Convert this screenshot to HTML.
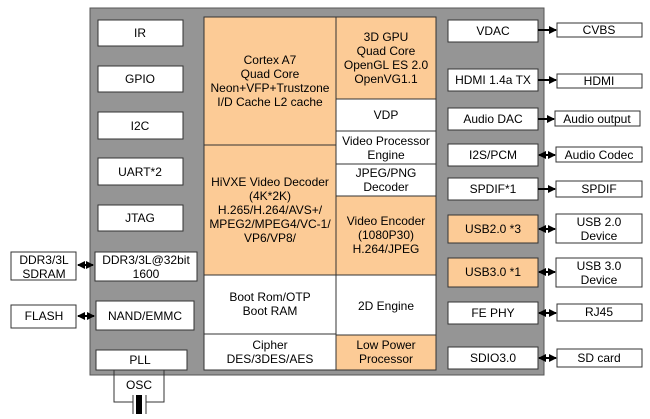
<!DOCTYPE html>
<html><head><style>
body{margin:0;background:#fff}
svg text{font-family:"Liberation Sans",sans-serif;font-size:12px;fill:#000;text-anchor:middle}
</style></head><body>
<svg width="650" height="414" viewBox="0 0 650 414" xmlns="http://www.w3.org/2000/svg">
<defs>
<marker id="a" markerWidth="8" markerHeight="8" refX="7" refY="4" orient="auto" markerUnits="userSpaceOnUse"><path d="M0,0L8,4L0,8z" fill="#000"/></marker>
<marker id="b" markerWidth="8" markerHeight="8" refX="1" refY="4" orient="auto" markerUnits="userSpaceOnUse"><path d="M8,0L0,4L8,8z" fill="#000"/></marker>
</defs>
<rect x="90" y="8" width="454" height="367" fill="#959595" stroke="#555" stroke-width="1"/>
<g stroke="#333" stroke-width="1" fill="#fff">
<rect x="98" y="20" width="85" height="26"/>
<rect x="98" y="66" width="85" height="26"/>
<rect x="98" y="112" width="85" height="27"/>
<rect x="98" y="158" width="85" height="27"/>
<rect x="98" y="205" width="85" height="26"/>
<rect x="95" y="252" width="102" height="29"/>
<rect x="96" y="301" width="98" height="29"/>
<rect x="96" y="350" width="91" height="20"/>
<rect x="11" y="252" width="65" height="28"/>
<rect x="11" y="305" width="65" height="23"/>
<rect x="204" y="17" width="132" height="128" fill="#fccb96"/>
<rect x="204" y="145" width="132" height="130" fill="#fccb96"/>
<rect x="204" y="275" width="132" height="59"/>
<rect x="204" y="334" width="132" height="36"/>
<rect x="336" y="17" width="100" height="82" fill="#fccb96"/>
<rect x="336" y="99" width="100" height="32"/>
<rect x="336" y="131" width="100" height="33"/>
<rect x="336" y="164" width="100" height="32"/>
<rect x="336" y="196" width="100" height="79" fill="#fccb96"/>
<rect x="336" y="275" width="100" height="60"/>
<rect x="336" y="335" width="100" height="35" fill="#fccb96"/>
<rect x="448" y="20" width="90" height="22"/>
<rect x="448" y="69" width="90" height="22"/>
<rect x="448" y="108" width="90" height="22"/>
<rect x="448" y="144" width="90" height="22"/>
<rect x="448" y="178" width="90" height="22"/>
<rect x="448" y="215" width="90" height="28" fill="#fccb96"/>
<rect x="448" y="258" width="90" height="29" fill="#fccb96"/>
<rect x="448" y="302" width="90" height="22"/>
<rect x="448" y="347" width="90" height="22"/>
<rect x="557" y="23" width="85" height="14"/>
<rect x="557" y="74" width="85" height="14"/>
<rect x="555" y="111" width="85" height="15"/>
<rect x="556" y="147" width="86" height="15"/>
<rect x="556" y="181" width="86" height="16"/>
<rect x="556" y="214" width="86" height="29"/>
<rect x="556" y="258" width="86" height="29"/>
<rect x="557" y="304" width="85" height="17"/>
<rect x="557" y="349" width="85" height="18"/>
</g>
<g stroke="#000" stroke-width="2">
<line x1="78" y1="265" x2="93" y2="265" marker-start="url(#b)" marker-end="url(#a)"/>
<line x1="78" y1="316" x2="94" y2="316" marker-start="url(#b)" marker-end="url(#a)"/>
<line x1="538" y1="30" x2="556" y2="30" marker-end="url(#a)"/>
<line x1="538" y1="80" x2="556" y2="80" marker-end="url(#a)"/>
<line x1="538" y1="119" x2="554" y2="119" marker-end="url(#a)"/>
<line x1="539" y1="155" x2="555" y2="155" marker-start="url(#b)" marker-end="url(#a)"/>
<line x1="538" y1="189" x2="555" y2="189" marker-end="url(#a)"/>
<line x1="539" y1="229" x2="555" y2="229" marker-start="url(#b)" marker-end="url(#a)"/>
<line x1="539" y1="272" x2="555" y2="272" marker-start="url(#b)" marker-end="url(#a)"/>
<line x1="539" y1="313" x2="556" y2="313" marker-start="url(#b)" marker-end="url(#a)"/>
<line x1="539" y1="358" x2="556" y2="358" marker-start="url(#b)" marker-end="url(#a)"/>
</g>
<g stroke="#333" stroke-width="1" fill="none">
<polyline points="114,370 114,402 133,402"/>
<polyline points="164,370 164,402 146,402"/>
<line x1="133" y1="395" x2="133" y2="414"/>
<line x1="146" y1="395" x2="146" y2="414"/>
</g>
<rect x="136" y="395" width="6" height="19" fill="#000"/>
<text x="140" y="37">IR</text>
<text x="140" y="83">GPIO</text>
<text x="140" y="130">I2C</text>
<text x="140" y="176">UART*2</text>
<text x="140" y="222">JTAG</text>
<text x="146" y="264">DDR3/3L@32bit</text>
<text x="146" y="278">1600</text>
<text x="145" y="320">NAND/EMMC</text>
<text x="140" y="364">PLL</text>
<text x="139" y="389">OSC</text>
<text x="44" y="264">DDR3/3L</text>
<text x="44" y="278">SDRAM</text>
<text x="44" y="320">FLASH</text>
<text x="270" y="64">Cortex A7</text>
<text x="270" y="78">Quad Core</text>
<text x="270" y="92">Neon+VFP+Trustzone</text>
<text x="270" y="106">I/D Cache L2 cache</text>
<text x="270" y="186">HiVXE Video Decoder</text>
<text x="270" y="200">(4K*2K)</text>
<text x="270" y="214">H.265/H.264/AVS+/</text>
<text x="270" y="228">MPEG2/MPEG4/VC-1/</text>
<text x="270" y="242">VP6/VP8/</text>
<text x="270" y="301">Boot Rom/OTP</text>
<text x="270" y="315">Boot RAM</text>
<text x="270" y="349">Cipher</text>
<text x="270" y="363">DES/3DES/AES</text>
<text x="386" y="41">3D GPU</text>
<text x="386" y="55">Quad Core</text>
<text x="386" y="69">OpenGL ES 2.0</text>
<text x="386" y="83">OpenVG1.1</text>
<text x="386" y="119">VDP</text>
<text x="386" y="145">Video Processor</text>
<text x="386" y="159">Engine</text>
<text x="386" y="177">JPEG/PNG</text>
<text x="386" y="191">Decoder</text>
<text x="386" y="225">Video Encoder</text>
<text x="386" y="239">(1080P30)</text>
<text x="386" y="253">H.264/JPEG</text>
<text x="386" y="310">2D Engine</text>
<text x="386" y="349">Low Power</text>
<text x="386" y="363">Processor</text>
<text x="493" y="35">VDAC</text>
<text x="493" y="84">HDMI 1.4a TX</text>
<text x="493" y="123">Audio DAC</text>
<text x="493" y="159">I2S/PCM</text>
<text x="493" y="193">SPDIF*1</text>
<text x="493" y="233">USB2.0 *3</text>
<text x="493" y="276">USB3.0 *1</text>
<text x="493" y="317">FE PHY</text>
<text x="493" y="362">SDIO3.0</text>
<text x="599" y="34">CVBS</text>
<text x="599" y="85">HDMI</text>
<text x="597" y="123">Audio output</text>
<text x="599" y="159">Audio Codec</text>
<text x="599" y="193">SPDIF</text>
<text x="599" y="226">USB 2.0</text>
<text x="599" y="240">Device</text>
<text x="599" y="270">USB 3.0</text>
<text x="599" y="284">Device</text>
<text x="599" y="316">RJ45</text>
<text x="599" y="362">SD card</text>
</svg>
</body></html>
